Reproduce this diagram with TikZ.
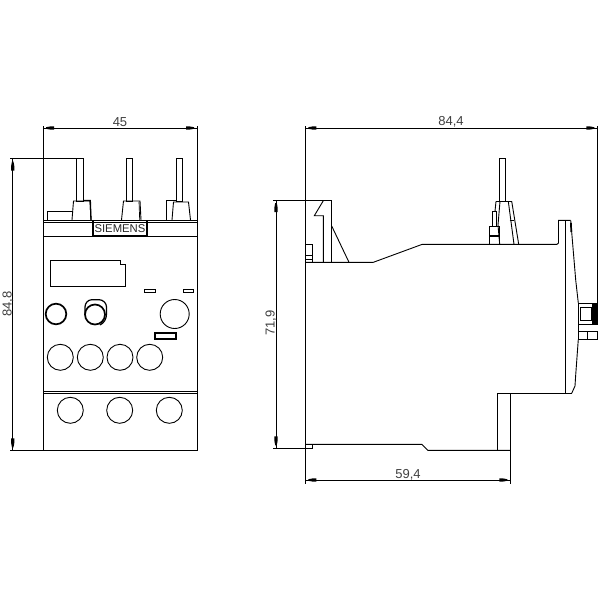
\documentclass[tikz,border=0pt]{standalone}
\usepackage{fontspec}
\setmainfont{Liberation Sans}
\tikzset{
 ln/.style={draw=black,line width=0.9pt,line join=miter},
 thn/.style={draw=black,line width=0.7pt},
 thk/.style={draw=black,line width=1.7pt},
 dimlbl/.style={font=\fontsize{13}{13}\selectfont,text=black!75,inner sep=0pt},
}
\newcommand{\hdimarrows}[3]{%
 \fill (#1+3,#3-0.8) -- (#1+8,#3-1.7) -- (#1+11,#3-1.7) -- (#1+11,#3+1.7) -- (#1+8,#3+1.7) -- (#1+3,#3+0.8) -- cycle;
 \fill (#2-3,#3-0.8) -- (#2-8,#3-1.7) -- (#2-11,#3-1.7) -- (#2-11,#3+1.7) -- (#2-8,#3+1.7) -- (#2-3,#3+0.8) -- cycle;
}
\newcommand{\vdimarrows}[3]{%
 \fill (#3-0.8,#1+3) -- (#3-1.7,#1+8) -- (#3-1.7,#1+12) -- (#3+1.7,#1+12) -- (#3+1.7,#1+8) -- (#3+0.8,#1+3) -- cycle;
 \fill (#3-0.8,#2-3) -- (#3-1.7,#2-8) -- (#3-1.7,#2-12) -- (#3+1.7,#2-12) -- (#3+1.7,#2-8) -- (#3+0.8,#2-3) -- cycle;
}
\begin{document}
\begin{tikzpicture}[x=1pt,y=-1pt]
\useasboundingbox (0,0) rectangle (600,600);
\fill[white] (0,0) rectangle (600,600);
% ===== left view: dimensions
\draw[ln] (43,126) -- (43,450) -- (197,450) -- (197,126);
\draw[ln] (43,128) -- (197,128);
\hdimarrows{43}{197}{128}
\node[dimlbl] (d45) at (120,122) {45};
\draw[ln] (10,158.7) -- (76.3,158.7);
\draw[ln] (10,450.3) -- (43,450.3);
\draw[ln] (12.7,158.7) -- (12.7,450.3);
\vdimarrows{158.7}{450.3}{12.7}
\node[dimlbl,rotate=90] (d848) at (8,304) {84,8};
% housing lines
\draw[ln] (43,220) -- (197,220);
\draw[ln] (43,222) -- (197,222);
\draw[ln] (43,236.7) -- (197,236.7);
\draw[ln] (43,391.7) -- (197,391.7);
\draw[ln] (43,393.6) -- (197,393.6);
% terminals
\draw[ln] (76.3,158.7) rectangle (83.7,201);
\draw[ln] (72,220) -- (73.5,201) -- (90,201) -- (91,220);
\draw[thk,line width=1.3pt] (83.7,200.5) -- (90.3,200.5) -- (91,220);
\draw[ln] (47.3,220) -- (47.3,211) -- (72,211);
\draw[ln] (126.3,158.7) rectangle (132.7,201);
\draw[ln] (121.5,220) -- (123.5,201) -- (140,201) -- (141,220);
\draw[thn] (139,201.5) -- (139.7,220);
\draw[ln] (176.3,158.7) rectangle (182.7,201);
\draw[ln] (172,220) -- (173.5,202) -- (188.5,202) -- (190.5,220);
\draw[ln] (166.3,220) -- (166.3,200) -- (176.3,200);
% logo
\draw[thk] (92.9,220.5) rectangle (147.1,236.3);
\node[font=\fontsize{11.3}{11.3}\selectfont,text=black!85,inner sep=0pt] (logo) at (120,228.5) {SIEMENS};
% display
\draw[ln] (50.3,260) -- (120.7,260) -- (120.7,264) -- (125.7,264) -- (125.7,286.3) -- (50.3,286.3) -- cycle;
% small windows
\draw[ln] (144.3,289.3) rectangle (155.7,292.5);
\draw[ln] (183.3,289.3) rectangle (193.7,292.5);
% buttons
\draw[thk] (56,314) circle (10.3);
\draw[thk] (95,314.5) circle (10);
\draw[ln,line width=1.2pt] (85,314) -- (85,307) .. controls (85,303) and (88,299.7) .. (92,299.7) -- (99,299.7) .. controls (103,299.7) and (106.5,303) .. (106.5,307) -- (106.5,314) .. controls (106.5,319) and (104,323) .. (100,325);
\draw[ln] (174.7,314) circle (14.5);
\draw[thk,line width=1.3pt] (154.9,332.9) rectangle (176.1,339.1);
\foreach \x in {60.3,90.3,120,149.7}{
  \draw[ln] (\x,357.3) circle (13);
}
\foreach \x in {70.3,119.7,169.3}{
  \draw[ln] (\x,410.3) circle (13);
}
% ===== right view: dimensions
\draw[ln] (305.3,126) -- (305.3,484);
\draw[ln] (597.3,126) -- (597.3,303);
\draw[ln] (305.3,128) -- (597.3,128);
\hdimarrows{305.3}{597.3}{128}
\node[dimlbl] (d844) at (451,122) {84,4};
\draw[ln] (273,200) -- (331.7,200);
\draw[ln] (273,448.3) -- (312.7,448.3);
\draw[ln] (276,200) -- (276,448.3);
\vdimarrows{200}{448.3}{276}
\node[dimlbl,rotate=90] (d719) at (271,323) {71,9};
\draw[ln] (305.3,480) -- (510.3,480);
\draw[ln] (510.3,393.3) -- (510.3,484);
\hdimarrows{305.3}{510.3}{480}
\node[dimlbl] (d594) at (408,475) {59,4};
% clip top-left
\draw[ln] (331.7,200) -- (331.7,262.3);
\draw[ln] (323.3,262.3) -- (323.3,215.7) -- (314.3,215.7) -- (323.3,200.7);
\draw[ln] (331.7,226) -- (349,262.3);
\draw[ln] (305.3,244.3) -- (312.7,244.3) -- (312.7,262.3);
\draw[ln] (305.3,255) -- (312.7,255);
\draw[ln] (305.3,259) -- (312.7,259);
% top outline
\draw[ln] (305.3,262.3) -- (373.3,262.3) -- (422.3,244.3) -- (557,244.3) -- (558.5,243) -- (558.5,220.3) -- (570.7,220.3);
% terminal
\draw[ln] (499.3,158.3) rectangle (505.7,201.3);
\draw[ln] (496,201.3) -- (511.7,201.3);
\draw[ln] (496,201.3) -- (495,211.3);
\draw[ln] (492.3,226) -- (492.3,211.3) -- (496,211.3) -- (496,226);
\draw[ln] (489.3,244.3) -- (489.3,226) -- (499.7,226) -- (499.7,244.3);
\draw[thk] (489.3,236) -- (499.7,236);
\draw[ln] (500,201.3) -- (498,225) -- (499.7,244.3);
\draw[ln] (508.3,201.3) -- (514,244.3);
\draw[ln] (511.7,201.3) -- (518.7,244.3);
\draw[ln] (509.5,220.3) -- (514,220.3);
% right side
\draw[ln] (565.3,220.3) -- (565.3,393.3);
\draw[thk] (570.9,223) -- (571.3,232);
\draw[ln] (570.7,220.3) -- (575.7,280) -- (578.3,303);
\draw[ln] (578.3,339.3) -- (575.7,375) -- (575,386) -- (571.7,393.3);
% button on the right
\draw[thk] (578.3,303.5) -- (594,303.5);
\fill (591.7,303) rectangle (597.6,325);
\draw[ln] (578.3,303) -- (578.3,339.3);
\draw[ln] (580,307.3) rectangle (591.7,320);
\draw[ln] (578.3,324.5) -- (594,324.5);
\draw[ln] (578.3,331.7) -- (597,331.7) -- (597,339.3) -- (578.3,339.3);
\draw[ln] (587.7,331.7) -- (587.7,339.3);
% lower body
\draw[ln] (497.3,393.3) -- (571.7,393.3);
\draw[ln] (497.3,393.3) -- (497.3,450.3);
\draw[ln] (305.3,448.3) -- (312.7,448.3) -- (312.7,444.3);
\draw[ln] (305.3,444.3) -- (421.7,444.3) -- (427.7,450.3) -- (510.3,450.3);
\end{tikzpicture}
\end{document}
